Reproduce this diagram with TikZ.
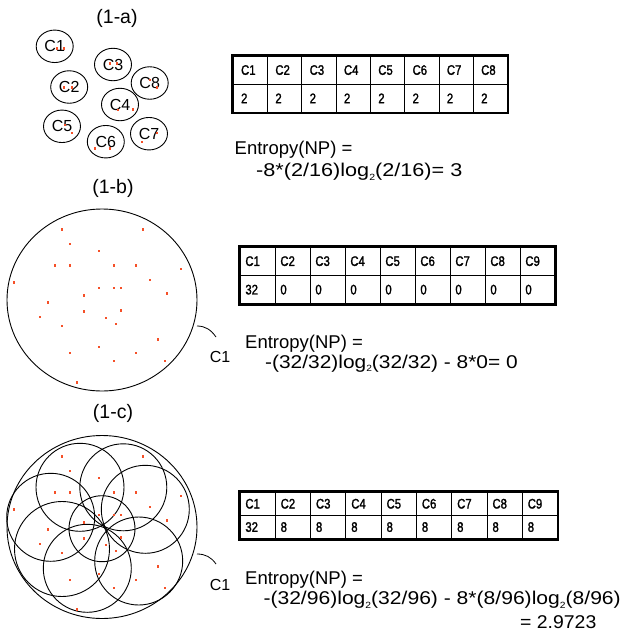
\documentclass[tikz,border=0pt]{standalone}
\usepackage{fontspec}
\usetikzlibrary{shapes.geometric}
\setmainfont{Liberation Sans}
\newfontfamily\cellfont[FakeStretch=0.82,FakeBold=1.6]{Liberation Sans}
\definecolor{dotred}{RGB}{245,80,40}
% small lowered index, as in log_2
\newcommand\lsub[1]{\raisebox{-0.35ex}{\fontsize{9}{9}\selectfont #1}}
% two-row count table: prefix, left x, top y, column width, row height, columns, padding, entries
\newcommand\nptable[8]{%
  \foreach \h/\v [count=\i] in {#8} {
    \node[cell, inner xsep=#7pt, minimum height=#5] (#1h\i) at ({#2+(\i-1)*#4},#3)
      {\makebox[\dimexpr#4pt-#7pt-#7pt\relax][l]{\h}};
    \node[cell, inner xsep=#7pt, minimum height=#5] (#1v\i) at ({#2+(\i-1)*#4},{#3+#5})
      {\makebox[\dimexpr#4pt-#7pt-#7pt\relax][l]{\v}};
  }
  \draw[frame] (#1h1.north west) rectangle (#1v#6.south east);
}
\begin{document}
\begin{tikzpicture}[x=1pt,y=-1pt,
  txt/.style={font=\fontsize{18.5}{21}\selectfont, inner sep=0pt, anchor=west},
  ttl/.style={font=\fontsize{19.5}{21}\selectfont, inner sep=0pt},
  clab/.style={font=\fontsize{16}{18}\selectfont, inner sep=0pt},
  cell/.style={draw, line width=0.8pt, anchor=north west, inner ysep=0pt,
    font=\cellfont\fontsize{13.8}{15}\selectfont},
  frame/.style={line width=2.8pt},
  ring/.style={line width=0.9pt},
  clus/.style={ellipse, draw, line width=0.9pt, minimum width=37pt, minimum height=32.5pt,
    inner sep=0pt, font=\fontsize{16}{18}\selectfont},
  pin/.style={line width=0.8pt}]
\useasboundingbox (0,0) rectangle (627,641);

% ---------------- (1-a): eight small clusters ----------------
\node[ttl] (ta) at (117,18.5) {(1-a)};
\node[clus] (a1) at (54.7,46.3) {C1};
\node[clus] (a3) at (113,64.5) {C3};
\node[clus] (a2) at (69.2,87) {C2};
\node[clus] (a8) at (149.7,83) {C8};
\node[clus] (a4) at (120,104.5) {C4};
\node[clus] (a5) at (62,126.3) {C5};
\node[clus] (a6) at (105.8,141.7) {C6};
\node[clus] (a7) at (149,133.7) {C7};
\foreach \x/\y in {56.7/48.3, 64/48.3, 110/63.3, 117.3/63.3, 64.3/87.3, 71.7/87.3,
  150/80, 156.7/87.3, 118.3/110, 133.3/109.3, 65/125, 71.7/132.7, 95/148.3, 110/148.3,
  141.7/141.7, 156.7/132.7}
  \fill[dotred] ({\x-1},{\y-1.2}) rectangle ++(2,2.4);

\nptable{ta}{232.7}{55.5}{34.3}{28.3}{8}{8}{C1/2,C2/2,C3/2,C4/2,C5/2,C6/2,C7/2,C8/2}
\node[txt] (ea1) at (234.5,149.5) {Entropy(NP) =};
\node[txt] (ea2) at (256,172) {\scalebox{1.17}[1]{-8*(2/16)log\lsub{2}(2/16)= 3}};

% ---------------- (1-b): one cluster holding everything ----------------
\node[ttl] (tb) at (113,188.3) {(1-b)};
\draw[ring] (102,300) ellipse (95 and 91);
\begin{scope}[shift={(102,300)}]
\foreach \dx/\dy in {-40/-70.7, 40.7/-70.7, -32.3/-56, -3/-49, -47/-34.7, -32.3/-34.7,
  11.7/-34.7, 33.7/-34.7, 79/-31, -87.7/-17.7, 48.3/-20, -3/-12, 11.7/-12, 19/-12,
  65.3/-6.7, -17.7/-4.7, -54.3/2.3, 19/10.3, -17.7/11.3, -61.7/17, 4.3/18, 14.3/24,
  -40/26, 55.7/39.3, -3/47, -32.3/53, 33.7/53, 11.7/61, 62.7/61, -25/82.3}
  \fill[dotred] ({\dx-1},{\dy-1.2}) rectangle ++(2,2.4);
\end{scope}
\coordinate (pb) at (197,326);
\node[clab] (cb) at (220,357) {C1};
\coordinate (qb) at (216,337);
\draw[pin] (pb) to[out=0,in=125] (qb);

\nptable{tb}{239.5}{246.5}{35}{28.5}{9}{5.5}{C1/32,C2/0,C3/0,C4/0,C5/0,C6/0,C7/0,C8/0,C9/0}
\node[txt] (eb1) at (245,343.3) {Entropy(NP) =};
\node[txt] (eb2) at (265,363.3) {\scalebox{1.13}[1]{-(32/32)log\lsub{2}(32/32) - 8*0= 0}};

% ---------------- (1-c): the large cluster with eight inner ones ----------------
\node[ttl] (tc) at (113,413.3) {(1-c)};
\draw[ring] (102,527) ellipse (95 and 91.5);
\draw[ring] (80,487.3) circle (44);
\draw[ring] (123.3,487.3) circle (43.5);
\draw[ring] (145.3,509.3) circle (44);
\draw[ring] (138.7,561) circle (44);
\draw[ring] (87.3,568.3) circle (44);
\draw[ring] (62,549) circle (47.5);
\draw[ring] (50.7,517.3) circle (44);
\draw[ring] (102,528.7) circle (33);
\begin{scope}[shift={(102,527)}]
\foreach \dx/\dy in {-40/-70.7, 40.7/-70.7, -32.3/-56, -3/-49, -47/-34.7, -32.3/-34.7,
  11.7/-34.7, 33.7/-34.7, 79/-31, -87.7/-17.7, 48.3/-20, -3/-12, 11.7/-12, 19/-12,
  65.3/-6.7, -17.7/-4.7, -54.3/2.3, 19/10.3, -17.7/11.3, -61.7/17, 4.3/18, 14.3/24,
  -40/26, 55.7/39.3, -3/47, -32.3/53, 33.7/53, 11.7/61, 62.7/61, -25/82.3}
  \fill[dotred] ({\dx-1},{\dy-1.2}) rectangle ++(2,2.4);
\end{scope}
\coordinate (pc) at (197,554);
\node[clab] (cc) at (220,585) {C1};
\coordinate (qc) at (216,564);
\draw[pin] (pc) to[out=0,in=125] (qc);

\nptable{tc}{239.5}{491.7}{35.3}{23.3}{9}{5.5}{C1/32,C2/8,C3/8,C4/8,C5/8,C6/8,C7/8,C8/8,C9/8}
\node[txt] (ec1) at (245,580) {Entropy(NP) =};
\node[txt] (ec2) at (263.3,600) {\scalebox{1.14}[1]{-(32/96)log\lsub{2}(32/96) - 8*(8/96)log\lsub{2}(8/96)}};
\node[txt] (ec3) at (520,621.7) {\scalebox{1.05}[1]{= 2.9723}};
\end{tikzpicture}
\end{document}
